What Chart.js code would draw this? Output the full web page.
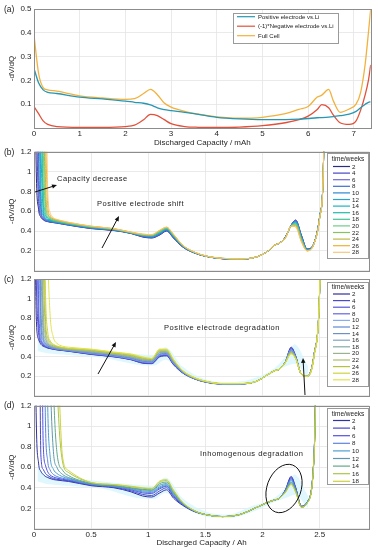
<!DOCTYPE html>
<html>
<head>
<meta charset="utf-8">
<script src="https://cdn.jsdelivr.net/npm/chart.js@4.4.1/dist/chart.umd.min.js"></script>
<style>
  html, body { margin: 0; padding: 0; background: #fff; }
  #wrap { position: relative; width: 378px; height: 550px; overflow: hidden; }
  .panel { position: absolute; left: 0; width: 378px; }
</style>
</head>
<body>
<div id="wrap">
  <div class="panel" style="top:0px;height:150px"><canvas id="chartA"></canvas></div>
  <div class="panel" style="top:140px;height:138px"><canvas id="chartB"></canvas></div>
  <div class="panel" style="top:270px;height:133px"><canvas id="chartC"></canvas></div>
  <div class="panel" style="top:398px;height:152px"><canvas id="chartD"></canvas></div>
</div>
<script>
// ---- (a) half cell vs full cell, capacity in mAh ----
const capMAh = [0, 0.1, 0.2, 0.3, 0.5, 1, 1.5, 2, 2.2, 2.4, 2.55, 2.7, 2.85, 3, 3.3, 3.6, 4, 4.5, 5, 5.5, 5.8, 6, 6.2, 6.3, 6.45, 6.55, 6.7, 6.9, 7.05, 7.15, 7.25, 7.32, 7.37];
const positiveVsLi = [0.25, 0.19, 0.16, 0.15, 0.145, 0.13, 0.122, 0.113, 0.108, 0.104, 0.097, 0.085, 0.077, 0.073, 0.066, 0.057, 0.045, 0.038, 0.035, 0.035, 0.037, 0.04, 0.043, 0.044, 0.046, 0.048, 0.052, 0.058, 0.07, 0.085, 0.1, 0.108, 0.11];
const negativeVsLi = [0.09, 0.06, 0.03, 0.015, 0.006, 0.003, 0.003, 0.006, 0.012, 0.035, 0.057, 0.052, 0.035, 0.018, 0.006, 0.003, 0.002, 0.004, 0.01, 0.022, 0.035, 0.05, 0.078, 0.098, 0.085, 0.055, 0.022, 0.015, 0.03, 0.075, 0.14, 0.2, 0.265];
const fullCell = [0.39, 0.23, 0.17, 0.16, 0.155, 0.135, 0.126, 0.12, 0.123, 0.145, 0.162, 0.14, 0.105, 0.088, 0.07, 0.058, 0.047, 0.041, 0.045, 0.06, 0.078, 0.09, 0.13, 0.138, 0.162, 0.115, 0.066, 0.08, 0.1, 0.15, 0.27, 0.4, 0.5];
const seriesA = ['Positive electrode vs.Li', '(-1)*Negative electrode vs.Li', 'Full Cell'];
const colorsA = ['#2796b2', '#e2503a', '#f2b13c'];

// ---- (b)-(d) aged cells, capacity in Ah (one row per week) ----
const capAh = [0, 0.02, 0.04, 0.06, 0.08, 0.1, 0.12, 0.14, 0.17, 0.2, 0.25, 0.3, 0.5, 0.7, 0.85, 0.95, 1.03, 1.1, 1.16, 1.22, 1.3, 1.4, 1.5, 1.65, 1.8, 1.95, 2.05, 2.1, 2.15, 2.2, 2.25, 2.29, 2.34, 2.39, 2.45, 2.5, 2.53, 2.56];

const weeksB = [2, 4, 6, 8, 10, 12, 14, 16, 18, 20, 22, 24, 26, 28];
const colorsB = ['#2b2a85', '#4645c4', '#6b6bd6', '#3b6fd0', '#2b88d3', '#28a5cc', '#1cb4c2', '#1fbcab', '#42c597', '#6fcc8a', '#84c35f', '#bdb94a', '#f0b030', '#f7c77a'];
const dvdqB = [
  [3,1.0,.62,.54,.515,.5,.495,.49,.485,.48,.47,.46, .425,.405,.375,.34,.33,.36,.40,.33,.24,.18,.145,.12,.115,.14,.2,.255,.28,.34,.46,.51,.36,.22,.28,.55,.95,3],
  [3,1.6,.7,.56,.52,.505,.497,.492,.487,.482,.472,.462, .427,.407,.377,.343,.333,.363,.403,.333,.242,.181,.146,.121,.116,.14,.2,.255,.28,.34,.46,.51,.355,.218,.279,.55,.95,3],
  [3,2.6,.85,.58,.53,.51,.5,.495,.489,.484,.474,.464, .429,.409,.378,.346,.336,.367,.406,.336,.244,.182,.146,.121,.116,.14,.2,.255,.28,.34,.46,.505,.35,.216,.278,.548,.95,3],
  [3,3,1.15,.62,.54,.515,.505,.498,.491,.486,.476,.466, .431,.41,.379,.349,.34,.371,.41,.34,.246,.183,.147,.122,.117,.14,.2,.255,.28,.339,.458,.5,.345,.214,.277,.546,.95,3],
  [3,3,1.9,.68,.56,.52,.51,.5,.493,.488,.478,.468, .433,.412,.38,.352,.343,.375,.413,.343,.248,.184,.147,.122,.117,.14,.2,.255,.28,.338,.457,.495,.34,.212,.276,.544,.95,3],
  [3,3,3,.85,.58,.53,.515,.505,.496,.49,.48,.47, .435,.414,.381,.354,.346,.379,.417,.346,.25,.185,.148,.123,.118,.14,.2,.255,.28,.337,.456,.49,.335,.21,.275,.542,.95,3],
  [3,3,3,1.3,.62,.545,.52,.51,.5,.493,.482,.472, .437,.415,.382,.356,.349,.383,.42,.349,.251,.185,.148,.123,.118,.14,.2,.255,.28,.336,.455,.485,.33,.208,.274,.54,.95,3],
  [3,3,3,2.2,.7,.56,.53,.515,.503,.496,.485,.474, .439,.417,.383,.358,.352,.387,.424,.352,.252,.186,.148,.123,.118,.14,.2,.255,.28,.335,.454,.48,.325,.206,.273,.538,.95,3],
  [3,3,3,3,.88,.58,.54,.52,.507,.5,.488,.477, .441,.418,.384,.36,.355,.391,.427,.355,.253,.187,.149,.124,.119,.14,.2,.255,.28,.334,.453,.475,.32,.205,.272,.537,.95,3],
  [3,3,3,3,1.3,.62,.55,.528,.511,.503,.49,.479, .443,.42,.385,.362,.357,.395,.43,.358,.255,.187,.149,.124,.119,.14,.2,.255,.28,.333,.452,.47,.315,.204,.272,.535,.95,3],
  [3,3,3,3,2.1,.7,.565,.535,.515,.506,.493,.481, .445,.421,.386,.364,.359,.399,.433,.361,.256,.188,.149,.124,.119,.14,.2,.255,.28,.332,.451,.465,.31,.203,.271,.534,.95,3],
  [3,3,3,3,3,.95,.59,.545,.52,.51,.496,.484, .447,.422,.387,.366,.361,.403,.436,.364,.257,.189,.15,.125,.12,.14,.2,.255,.28,.331,.45,.455,.3,.202,.271,.532,.95,3],
  [3,3,3,3,3,1.5,.66,.56,.525,.514,.5,.487, .449,.424,.389,.368,.363,.407,.438,.367,.259,.19,.15,.125,.12,.14,.2,.255,.28,.33,.45,.45,.295,.201,.27,.531,.95,3],
  [3,3,3,3,3,2.4,.8,.59,.535,.518,.503,.49, .45,.425,.39,.37,.365,.41,.44,.37,.26,.19,.15,.125,.12,.14,.2,.255,.28,.33,.45,.44,.29,.2,.27,.53,.95,3]
];

const weeksC = [2, 4, 6, 8, 10, 12, 14, 16, 18, 20, 22, 24, 26, 28];
const colorsC = ['#33309e', '#4a4acc', '#5656dc', '#6262e6', '#86acf5', '#5c8ad2', '#6a92c8', '#82a2c6', '#84aaa8', '#9ab28e', '#a9c06c', '#b3c23f', '#cfd43e', '#e2e24e'];
const dvdqC = [
  [3,.8,.58,.53,.51,.5,.49,.485,.478,.472,.465,.458, .425,.40,.37,.335,.33,.40,.41,.32,.235,.175,.14,.12,.12,.15,.22,.255,.275,.35,.50,.41,.22,.20,.42,1.1,3,3],
  [3,1.2,.65,.55,.52,.505,.495,.488,.48,.474,.467,.46, .427,.402,.372,.338,.333,.405,.415,.323,.237,.176,.141,.121,.121,.15,.22,.255,.275,.35,.49,.405,.22,.2,.42,1.1,3,3],
  [3,2.2,.75,.57,.53,.51,.5,.49,.482,.476,.469,.462, .43,.404,.374,.342,.337,.41,.42,.327,.239,.177,.142,.121,.121,.15,.22,.255,.275,.35,.485,.40,.22,.2,.42,1.1,3,3],
  [3,3,1.0,.6,.54,.515,.503,.493,.485,.478,.471,.464, .432,.406,.376,.346,.341,.415,.425,.33,.241,.178,.143,.122,.122,.15,.22,.255,.275,.35,.48,.40,.22,.2,.42,1.1,3,3],
  [3,3,1.6,.65,.55,.52,.507,.497,.488,.481,.473,.466, .436,.41,.38,.35,.345,.42,.43,.335,.243,.179,.144,.122,.122,.15,.22,.255,.275,.35,.475,.395,.22,.2,.42,1.1,3,3],
  [3,3,2.6,.75,.57,.53,.512,.5,.49,.483,.475,.468, .44,.414,.385,.355,.35,.425,.435,.34,.245,.18,.145,.122,.122,.15,.22,.255,.275,.348,.47,.39,.22,.2,.415,1.1,3,3],
  [3,3,3,.95,.6,.54,.518,.505,.494,.486,.478,.47, .444,.418,.39,.36,.355,.43,.44,.345,.247,.181,.146,.123,.123,.15,.22,.255,.275,.347,.465,.39,.22,.2,.415,1.1,3,3],
  [3,3,3,1.4,.65,.555,.525,.51,.497,.489,.48,.473, .448,.422,.395,.365,.36,.44,.445,.35,.249,.182,.146,.123,.123,.15,.22,.255,.275,.346,.46,.39,.22,.2,.41,1.1,3,3],
  [3,3,3,2.2,.75,.58,.535,.516,.501,.492,.483,.476, .452,.426,.40,.37,.365,.445,.45,.355,.251,.183,.147,.123,.123,.15,.22,.255,.275,.345,.455,.385,.22,.2,.41,1.1,3,3],
  [3,3,3,3,.95,.62,.55,.525,.506,.496,.486,.479, .458,.43,.405,.375,.37,.455,.455,.36,.253,.185,.148,.124,.124,.15,.22,.255,.275,.344,.45,.385,.22,.2,.405,1.1,3,3],
  [3,3,3,3,1.4,.68,.57,.535,.512,.5,.49,.482, .464,.436,.412,.382,.374,.462,.462,.364,.255,.186,.148,.124,.124,.15,.22,.255,.275,.343,.445,.382,.22,.2,.405,1.1,3,3],
  [3,3,3,3,2.3,.8,.6,.55,.52,.506,.494,.485, .47,.44,.418,.388,.378,.47,.47,.368,.257,.187,.149,.125,.125,.15,.22,.255,.275,.342,.44,.382,.22,.2,.4,1.1,3,3],
  [3,3,3,3,3,1.1,.66,.57,.53,.512,.498,.488, .475,.445,.424,.394,.382,.475,.475,.372,.258,.188,.15,.125,.125,.15,.22,.255,.275,.341,.435,.38,.22,.2,.4,1.1,3,3],
  [3,3,3,3,3,3,1.5,.85,.6,.54,.51,.5, .48,.45,.43,.40,.385,.48,.48,.375,.26,.19,.15,.125,.125,.15,.22,.255,.275,.34,.43,.38,.22,.2,.4,1.1,3,3]
];

const weeksD = [2, 4, 6, 8, 10, 12, 14, 16, 18];
const colorsD = ['#3232a2', '#4848cc', '#5252de', '#5c82e0', '#4ca0d0', '#5c98b0', '#62a88a', '#a8c84a', '#d0d040'];
const dvdqD = [
  [3,1.05,.64,.56,.53,.51,.5,.49,.48,.475,.468,.462, .42,.40,.36,.32,.31,.35,.38,.30,.23,.17,.14,.12,.14,.21,.26,.28,.3,.38,.51,.40,.22,.26,.7,3,3,3],
  [3,3,3,.72,.58,.54,.52,.505,.49,.482,.474,.468, .425,.405,.37,.335,.325,.37,.40,.315,.235,.172,.14,.12,.14,.21,.26,.28,.3,.38,.50,.40,.22,.26,.7,3,3,3],
  [3,3,3,3,.85,.62,.555,.525,.505,.494,.482,.474, .43,.41,.38,.35,.345,.39,.415,.325,.24,.174,.14,.12,.14,.21,.26,.28,.3,.375,.49,.39,.22,.26,.7,3,3,3],
  [3,3,3,3,3,1.05,.66,.575,.53,.51,.492,.48, .432,.412,.385,.36,.355,.40,.42,.33,.242,.175,.14,.12,.14,.21,.26,.28,.3,.37,.48,.385,.215,.26,.7,3,3,3],
  [3,3,3,3,3,3,1.2,.72,.58,.54,.508,.49, .435,.415,.39,.37,.365,.41,.43,.34,.245,.176,.14,.12,.14,.21,.26,.28,.3,.37,.47,.38,.215,.26,.7,3,3,3],
  [3,3,3,3,3,3,3,1.6,.75,.6,.53,.5, .44,.42,.395,.38,.375,.425,.44,.35,.25,.177,.14,.12,.14,.21,.26,.28,.3,.365,.455,.375,.21,.255,.69,3,3,3],
  [3,3,3,3,3,3,3,3,1.4,.75,.57,.52, .445,.425,.40,.385,.38,.44,.455,.36,.253,.178,.14,.12,.14,.21,.26,.28,.3,.36,.445,.37,.21,.255,.69,3,3,3],
  [3,3,3,3,3,3,3,3,3,1.5,.65,.55, .45,.43,.41,.395,.39,.455,.47,.37,.256,.18,.14,.12,.14,.21,.26,.28,.3,.36,.435,.36,.21,.25,.68,3,3,3],
  [3,3,3,3,3,3,3,3,3,2.0,.7,.57, .452,.432,.415,.40,.395,.465,.478,.38,.26,.18,.14,.12,.14,.21,.26,.28,.3,.355,.43,.355,.21,.25,.68,3,3,3]
];

// pale spread band behind the curves in (c) and (d)
const capBand = [0.03, 0.1, 0.3, 0.6, 0.9, 1.05, 1.15, 1.3, 1.5, 1.7, 1.9, 2.1, 2.2, 2.28, 2.4];
const bandUpperC = [0.62, 0.52, 0.5, 0.46, 0.43, 0.42, 0.5, 0.3, 0.17, 0.14, 0.17, 0.28, 0.4, 0.53, 0.3];
const bandLowerC = [0.46, 0.44, 0.42, 0.39, 0.32, 0.31, 0.37, 0.22, 0.13, 0.105, 0.12, 0.24, 0.3, 0.33, 0.18];
const bandUpperD = [0.62, 0.53, 0.5, 0.46, 0.43, 0.42, 0.5, 0.3, 0.17, 0.14, 0.22, 0.3, 0.4, 0.53, 0.32];
const bandLowerD = [0.46, 0.44, 0.42, 0.39, 0.3, 0.29, 0.35, 0.22, 0.12, 0.105, 0.16, 0.26, 0.3, 0.33, 0.2];

const ticksA = { x: 1, y: 0.1 };
const ticksAh = { x: 0.5, y: 0.2 };

// ------------------------------------------------------------
const FONT = '"Liberation Sans", Arial, Helvetica, sans-serif';
Chart.defaults.font.family = FONT;
Chart.defaults.font.size = 8;
Chart.defaults.color = '#262626';
const gridColor = '#e4e4e4';

function toPoints(xs, ys) {
  return xs.map((x, i) => ({ x: x, y: ys[i] }));
}

function drawArrow(ctx, x0, y0, x1, y1) {
  const ang = Math.atan2(y1 - y0, x1 - x0);
  const len = 5, half = 2.2;
  ctx.beginPath();
  ctx.moveTo(x0, y0);
  ctx.lineTo(x1 - Math.cos(ang) * len * 0.6, y1 - Math.sin(ang) * len * 0.6);
  ctx.stroke();
  ctx.beginPath();
  ctx.moveTo(x1, y1);
  ctx.lineTo(x1 - Math.cos(ang) * len - Math.sin(ang) * half, y1 - Math.sin(ang) * len + Math.cos(ang) * half);
  ctx.lineTo(x1 - Math.cos(ang) * len + Math.sin(ang) * half, y1 - Math.sin(ang) * len - Math.cos(ang) * half);
  ctx.closePath();
  ctx.fill();
}

// frame, panel letter, notes and in-plot legend
const decorPlugin = {
  id: 'decor',
  afterDraw(chart, args, o) {
    const ctx = chart.ctx;
    const a = chart.chartArea;
    ctx.save();
    ctx.strokeStyle = '#8c8c8c';
    ctx.lineWidth = 1;
    ctx.strokeRect(Math.round(a.left) + 0.5, Math.round(a.top) + 0.5, Math.round(a.right - a.left), Math.round(a.bottom - a.top));

    ctx.fillStyle = '#222';
    ctx.font = '8.5px ' + FONT;
    ctx.textAlign = 'left';
    ctx.textBaseline = 'middle';
    ctx.fillText(o.letter, 4, a.top + 0.5);

    ctx.font = '7.5px ' + FONT;
    ctx.letterSpacing = '0.5px';
    (o.texts || []).forEach(t => ctx.fillText(t.t, t.x, t.y));
    ctx.letterSpacing = '0px';

    ctx.strokeStyle = '#111';
    ctx.fillStyle = '#111';
    ctx.lineWidth = 1;
    (o.arrows || []).forEach(p => drawArrow(ctx, p[0], p[1], p[2], p[3]));
    if (o.ellipse) {
      const e = o.ellipse;
      ctx.beginPath();
      ctx.ellipse(e.x, e.y, e.rx, e.ry, e.rot, 0, Math.PI * 2);
      ctx.stroke();
    }

    const L = o.legend;
    if (L) {
      ctx.fillStyle = '#fff';
      ctx.fillRect(L.x, L.y, L.w, L.h);
      ctx.strokeStyle = '#9a9a9a';
      ctx.strokeRect(L.x + 0.5, L.y + 0.5, L.w, L.h);
      ctx.fillStyle = '#222';
      if (L.title) {
        ctx.font = '6.5px ' + FONT;
        ctx.textAlign = 'center';
        ctx.fillText(L.title, L.x + L.w / 2 + 0.5, L.titleY);
      }
      ctx.textAlign = 'left';
      ctx.font = L.fontSize + 'px ' + FONT;
      chart.data.datasets.filter(ds => !ds.isBand).forEach((ds, i) => {
        const y = L.y0 + i * L.dy;
        ctx.strokeStyle = ds.borderColor;
        ctx.lineWidth = 1.2;
        ctx.beginPath();
        ctx.moveTo(L.lx0, y);
        ctx.lineTo(L.lx1, y);
        ctx.stroke();
        ctx.fillStyle = '#222';
        ctx.fillText(ds.label, L.tx, y + 0.3);
      });
    }
    ctx.restore();
  }
};

function makeOptions(o) {
  return {
    responsive: true,
    maintainAspectRatio: false,
    animation: false,
    events: [],
    layout: { padding: { top: o.padTop, right: o.padRight, left: 0, bottom: 0 } },
    plugins: { legend: { display: false }, tooltip: { enabled: false }, decor: o.decor },
    elements: { point: { radius: 0 }, line: { cubicInterpolationMode: 'monotone' } },
    scales: {
      x: {
        type: 'linear', min: 0, max: o.xMax,
        afterFit: s => { s.height = o.xHeight; },
        grid: { color: gridColor, lineWidth: 0.8, drawTicks: false },
        border: { display: false },
        ticks: { display: o.xLabels, stepSize: o.xStep, includeBounds: false, padding: 1, maxRotation: 0, autoSkip: false,
                 callback: v => String(+v.toFixed(2)) },
        title: { display: !!o.xTitle, text: o.xTitle, padding: { top: 0, bottom: 2 } }
      },
      y: {
        min: 0, max: o.yMax,
        afterFit: s => { s.width = 34; },
        grid: { color: gridColor, lineWidth: 0.8, drawTicks: false },
        border: { display: false },
        ticks: { stepSize: o.yStep, padding: 2.5, includeBounds: false,
                 callback: v => (v === 0 ? '' : String(+v.toFixed(2))) },
        title: { display: true, text: '-dV/dQ', padding: { top: 7, bottom: 0 } }
      }
    }
  };
}

function weekSets(rows, weeks, colors) {
  return rows.map((row, i) => ({
    label: String(weeks[i]),
    data: toPoints(capAh, row),
    borderColor: colors[i],
    borderWidth: 1,
    order: -i
  }));
}

function bandSets(upper, lower) {
  return [
    { isBand: true, label: 'band', data: toPoints(capBand, upper), borderWidth: 0, borderColor: 'rgba(0,0,0,0)',
      backgroundColor: 'rgba(214,246,252,0.75)', fill: '+1', order: 100 },
    { isBand: true, label: 'band', data: toPoints(capBand, lower), borderWidth: 0, borderColor: 'rgba(0,0,0,0)',
      fill: false, order: 101 }
  ];
}

// (a)
new Chart(document.getElementById('chartA'), {
  type: 'line',
  data: {
    datasets: [positiveVsLi, negativeVsLi, fullCell].map((ys, i) => ({
      label: seriesA[i],
      data: toPoints(capMAh, ys),
      borderColor: colorsA[i],
      borderWidth: 1.3
    }))
  },
  options: makeOptions({
    padTop: 9, padRight: 7.3, xMax: 7.37, yMax: 0.5, xStep: ticksA.x, yStep: ticksA.y,
    xHeight: 22, xLabels: true, xTitle: 'Discharged Capacity / mAh',
    decor: {
      letter: '(a)',
      legend: { x: 233, y: 13, w: 105, h: 30, y0: 16.7, dy: 9.5, lx0: 237, lx1: 255, tx: 258, fontSize: 6 }
    }
  }),
  plugins: [decorPlugin]
});

// (b)
new Chart(document.getElementById('chartB'), {
  type: 'line',
  data: { datasets: weekSets(dvdqB, weeksB, colorsB) },
  options: makeOptions({
    padTop: 11.8, padRight: 8.7, xMax: 2.934, yMax: 1.2, xStep: ticksAh.x, yStep: ticksAh.y,
    xHeight: 5, xLabels: false,
    decor: {
      letter: '(b)',
      texts: [{ t: 'Capacity decrease', x: 57, y: 39 }, { t: 'Positive electrode shift', x: 97, y: 64 }],
      arrows: [[35, 52, 57, 45], [102, 108, 119, 76]],
      legend: { x: 327, y: 13, w: 41, h: 105, title: 'time/weeks', titleY: 19, y0: 26.5, dy: 6.6, lx0: 333, lx1: 350, tx: 352, fontSize: 6.2 }
    }
  }),
  plugins: [decorPlugin]
});

// (c)
new Chart(document.getElementById('chartC'), {
  type: 'line',
  data: { datasets: weekSets(dvdqC, weeksC, colorsC).concat(bandSets(bandUpperC, bandLowerC)) },
  options: makeOptions({
    padTop: 9.2, padRight: 8.7, xMax: 2.934, yMax: 1.2, xStep: ticksAh.x, yStep: ticksAh.y,
    xHeight: 2.8, xLabels: false,
    decor: {
      letter: '(c)',
      texts: [{ t: 'Positive electrode degradation', x: 164, y: 58 }],
      arrows: [[98, 104, 116, 72], [305, 125, 303, 88]],
      legend: { x: 327, y: 12, w: 41, h: 104, title: 'time/weeks', titleY: 17.5, y0: 24, dy: 6.6, lx0: 333, lx1: 350, tx: 352, fontSize: 6.2 }
    }
  }),
  plugins: [decorPlugin]
});

// (d)
new Chart(document.getElementById('chartD'), {
  type: 'line',
  data: { datasets: weekSets(dvdqD, weeksD, colorsD).concat(bandSets(bandUpperD, bandLowerD)) },
  options: makeOptions({
    padTop: 7.5, padRight: 8.7, xMax: 2.934, yMax: 1.2, xStep: ticksAh.x, yStep: ticksAh.y,
    xHeight: 21.1, xLabels: true, xTitle: 'Discharged Capacity / Ah',
    decor: {
      letter: '(d)',
      texts: [{ t: 'Inhomogenous degradation', x: 200, y: 56 }],
      ellipse: { x: 284, y: 90.5, rx: 17, ry: 25, rot: 0.35 },
      legend: { x: 327, y: 10, w: 41, h: 76, title: 'time/weeks', titleY: 16, y0: 22.5, dy: 7.6, lx0: 333, lx1: 350, tx: 352, fontSize: 6.2 }
    }
  }),
  plugins: [decorPlugin]
});
</script>
</body>
</html>
